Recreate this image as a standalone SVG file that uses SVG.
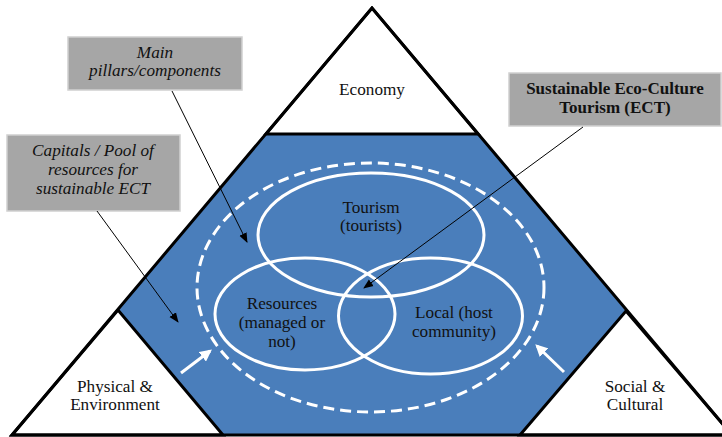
<svg xmlns="http://www.w3.org/2000/svg" width="722" height="437" viewBox="0 0 722 437">
<style>
text{font-family:'Liberation Serif','Times New Roman',Times,serif}
.lbl{font-size:17.2px;fill:#111;text-anchor:middle}
.it{font-style:italic;font-size:17.2px}
.bd{font-weight:bold;font-size:17px}
.box{fill:#a6a6a6;stroke:#d0d0d0;stroke-width:1.5}
.tri{fill:#fff;stroke:#000;stroke-width:3;stroke-linejoin:miter}
.ell{fill:none;stroke:#fff;stroke-width:3}
.lead{stroke:#000;stroke-width:1;fill:none}
.warr{stroke:#fff;stroke-width:3;fill:none}
</style>
<defs>
<marker id="ab" viewBox="0 0 10 10" refX="9" refY="5" markerWidth="10" markerHeight="10" markerUnits="userSpaceOnUse" orient="auto">
<path d="M0,1 L10,5 L0,9 Z" fill="#000"/>
</marker>
<marker id="aw" viewBox="0 0 10 10" refX="8" refY="5" markerWidth="4" markerHeight="4" orient="auto">
<path d="M0,0 L10,5 L0,10 Z" fill="#fff"/>
</marker>
</defs>
<rect width="722" height="437" fill="#fff"/>
<g id="ect-core">
<polygon points="266,134 478,134 626,311 520,435 223,435 118,310" fill="#4a7ebb"/>
</g>
<g id="economy">
<polygon class="tri" points="372,8 266,134 478,134"/>
<text class="lbl" x="372" y="95">Economy</text>
</g>
<g id="physical">
<polygon class="tri" points="12,435 118,310 223,435"/>
<text class="lbl" x="115" y="392">Physical &amp;</text>
<text class="lbl" x="115" y="410">Environment</text>
</g>
<g id="social">
<polygon class="tri" points="520,435 626,311 732,435"/>
<text class="lbl" x="635" y="392">Social &amp;</text>
<text class="lbl" x="635" y="410">Cultural</text>
</g>
<polygon points="12,435 372,8 732,435" fill="none" stroke="#000" stroke-width="3"/>
<g id="pool">
<ellipse cx="370.5" cy="287.5" rx="173.5" ry="124.5" fill="none" stroke="#fff" stroke-width="3" stroke-dasharray="11,6"/>
</g>
<g id="tourism">
<ellipse class="ell" cx="371" cy="235" rx="113" ry="62"/>
<text class="lbl" x="371" y="213">Tourism</text>
<text class="lbl" x="371" y="231">(tourists)</text>
</g>
<g id="resources">
<ellipse class="ell" cx="305" cy="314" rx="90" ry="56"/>
<text class="lbl" x="282" y="309">Resources</text>
<text class="lbl" x="282" y="328">(managed or</text>
<text class="lbl" x="282" y="347">not)</text>
</g>
<g id="local">
<ellipse class="ell" cx="430.5" cy="316" rx="92" ry="58"/>
<text class="lbl" x="454" y="318">Local (host</text>
<text class="lbl" x="454" y="337">community)</text>
</g>
<g id="box-pillars">
<rect class="box" x="68" y="37" width="174" height="53"/>
<text class="lbl it" x="155" y="58">Main</text>
<text class="lbl it" x="155" y="76">pillars/components</text>
</g>
<g id="box-capitals">
<rect class="box" x="7" y="135" width="173" height="76"/>
<text class="lbl it" x="93" y="156">Capitals / Pool of</text>
<text class="lbl it" x="93" y="175">resources for</text>
<text class="lbl it" x="93" y="194">sustainable ECT</text>
</g>
<g id="box-ect">
<rect class="box" x="509" y="73" width="212" height="53"/>
<text class="lbl bd" x="615" y="94">Sustainable Eco-Culture</text>
<text class="lbl bd" x="615" y="113">Tourism (ECT)</text>
</g>
<g id="connectors">
<line class="lead" x1="172" y1="91" x2="247" y2="242" marker-end="url(#ab)"/>
<line class="lead" x1="97" y1="211" x2="178" y2="322" marker-end="url(#ab)"/>
<line class="lead" x1="583" y1="127" x2="364" y2="288" marker-end="url(#ab)"/>
<line class="warr" x1="181" y1="373" x2="210" y2="351" marker-end="url(#aw)"/>
<line class="warr" x1="564" y1="372" x2="537" y2="346" marker-end="url(#aw)"/>
</g>
</svg>
